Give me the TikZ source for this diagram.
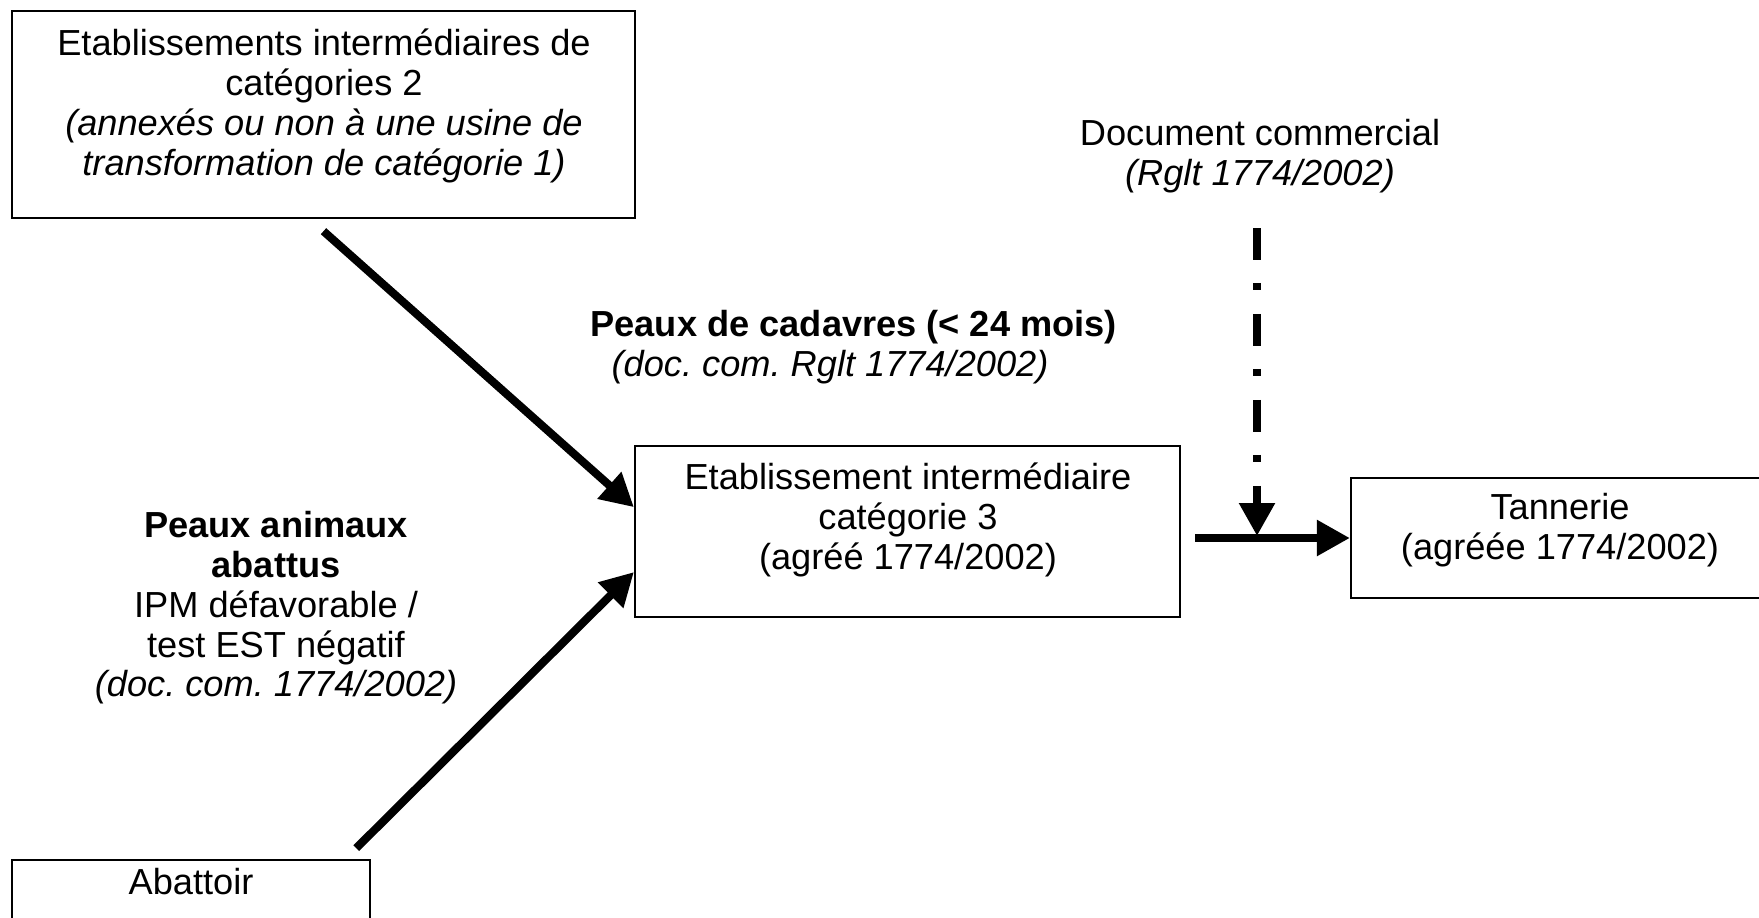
\documentclass[tikz,border=0pt]{standalone}
\usepackage{fontspec}
\setmainfont{Liberation Sans}
\usetikzlibrary{arrows.meta}
\frenchspacing
\begin{document}
\begin{tikzpicture}[x=0.37pt,y=-0.37pt,
    font=\fontsize{13.4pt}{14.7pt}\selectfont,
    box/.style={draw,line width=0.75pt,inner sep=0pt},
    txt/.style={align=center,inner sep=0pt},
    flow/.style={line width=3pt,-{Triangle[length=12.2pt,width=12.6pt]}}]
  \useasboundingbox (0,0) rectangle (1759,917);
  \node[box,minimum width=230.5pt,minimum height=76.6pt] (etab2) at (323.5,114.5) {};
  \node[txt] (etab2t) at (324,106) {Etablissements intermédiaires de\\catégories 2\\
    \textit{(annexés ou non à une usine de}\\\textit{transformation de catégorie 1)}};
  \node[box,minimum width=201.7pt,minimum height=63.3pt] (cat3) at (907.5,531.5) {};
  \node[txt] (cat3t) at (908,520) {Etablissement intermédiaire\\catégorie 3\\(agréé 1774/2002)};
  \node[box,minimum width=154.7pt,minimum height=44.4pt] (tan) at (1560,538) {};
  \node[txt] (tant) at (1560,530) {Tannerie\\(agréée 1774/2002)};
  \node[box,minimum width=132.5pt,minimum height=37pt] (abat) at (191,910) {};
  \node[txt] (abatt) at (191,882) {Abattoir};
  \node[txt] (abtlbl) at (276,608) {\textbf{Peaux animaux}\\\textbf{abattus}\\IPM défavorable /\\
    test EST négatif\\\textit{(doc. com. 1774/2002)}};
  \node[txt,align=left,anchor=west] (cad) at (590,347) {\textbf{Peaux de cadavres (< 24 mois)}\\
    \hspace*{7.8pt}\textit{(doc. com. Rglt 1774/2002)}};
  \node[txt] (doc) at (1260,156) {Document commercial\\\textit{(Rglt 1774/2002)}};
  \coordinate (hs) at (1195,538);
  \coordinate (dtop) at (1257,228);
  \coordinate (jn) at (1257,536);
  \draw[flow] ([yshift=-4.5pt]etab2.south) -- ([yshift=9pt]cat3.west);
  \draw[flow] ([xshift=-5.5pt,yshift=4pt]abat.north east) -- ([yshift=-15pt]cat3.west);
  \draw[flow] (hs) -- (tan.west);
  \draw[flow,dash pattern=on 11.8pt off 8.5pt on 2.6pt off 8.9pt] (dtop) -- (jn);
\end{tikzpicture}
\end{document}
